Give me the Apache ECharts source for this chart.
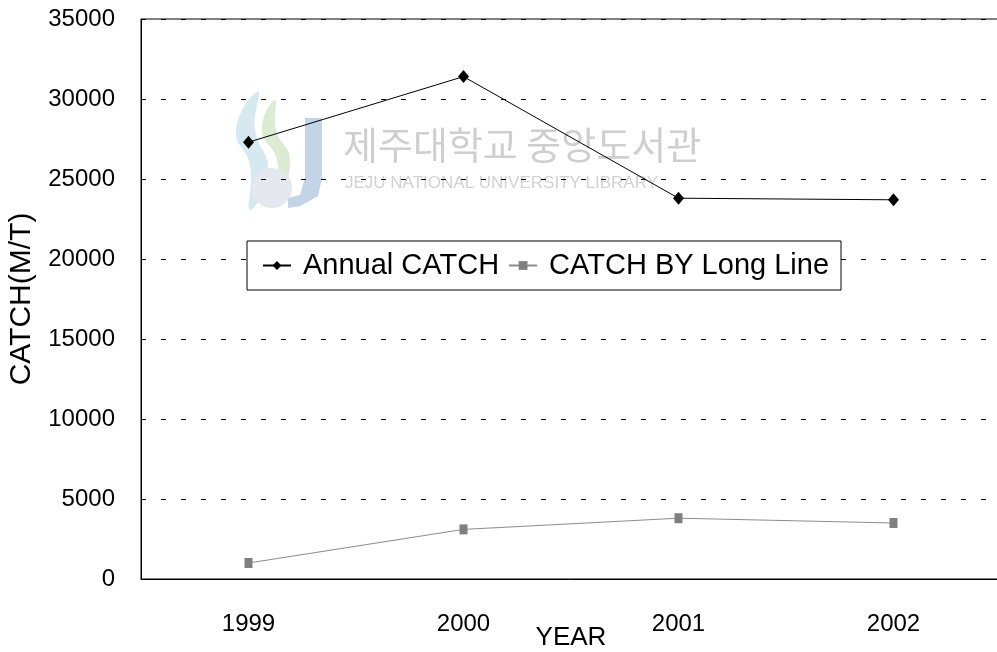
<!DOCTYPE html>
<html>
<head>
<meta charset="utf-8">
<script src="https://cdn.jsdelivr.net/npm/echarts@6/dist/echarts.min.js"></script>
<style>html,body{margin:0;padding:0;background:#fff}#c{width:997px;height:652px}</style>
</head>
<body>
<div id="c"></div>
<script>
const years = ['1999', '2000', '2001', '2002'];
const annualCatch = [27300, 31400, 23800, 23700];
const longLineCatch = [1000, 3100, 3800, 3500];
const yTicks = {min: 0, max: 35000, interval: 5000};
const seriesNames = ['Annual CATCH', 'CATCH BY Long Line'];

const FONT = "'Liberation Sans', Arial, sans-serif";
const chart = echarts.init(document.getElementById('c'), null, {renderer: 'canvas'});
chart.setOption({
  backgroundColor: '#fff',
  animation: false,
  textStyle: {fontFamily: FONT},
  grid: {left: 141, top: 19, width: 860, height: 560, containLabel: false, outerBoundsMode: 'none',
         show: true, borderColor: '#000', borderWidth: 1},
  graphic: {elements: [
    {type: 'polygon', z: -1, shape: {smooth: 0.5, points: [[258, 92], [236, 130], [250, 165], [250, 210], [268, 170], [255, 130]]}, style: {fill: '#d6e8f0'}},
    {type: 'polygon', z: -1, shape: {smooth: 0.5, points: [[275, 100], [262, 130], [277, 160], [278, 200], [290, 160], [276, 130]]}, style: {fill: '#dcebd2'}},
    {type: 'circle', z: -1, shape: {cx: 272, cy: 188, r: 20}, style: {fill: '#e6e8f0'}},
    {type: 'rect', z: -1, shape: {x: 305, y: 118, width: 17, height: 62}, style: {fill: '#c3d3e8'}},
    {type: 'polygon', z: -1, shape: {points: [[322, 178], [318, 196], [300, 206], [288, 208], [288, 198], [300, 195], [305, 178]]}, style: {fill: '#c3d3e8'}},
    {type: 'text', z: -1, style: {x: 343, y: 126, text: '제주대학교 중앙도서관', font: "38px 'Noto Sans CJK KR'", fill: '#cfcfcf'}},
    {type: 'text', z: -1, style: {x: 345, y: 175, text: 'JEJU NATIONAL UNIVERSITY LIBRARY', font: "17px 'Liberation Sans'", fill: '#d2d2d2'}}
  ]},
  legend: {
    left: 247, top: 241,
    padding: [10, 12, 10, 15],
    backgroundColor: '#fff',
    borderColor: '#000', borderWidth: 1,
    itemWidth: 28, itemHeight: 11, itemGap: 9,
    textStyle: {fontFamily: FONT, fontSize: 29, color: '#000', padding: [0, 0, 0, 7]},
    data: seriesNames
  },
  xAxis: {
    type: 'category',
    data: years,
    boundaryGap: true,
    name: 'YEAR',
    nameLocation: 'middle',
    nameGap: 46,
    nameMoveOverlap: false,
    nameTextStyle: {fontFamily: FONT, fontSize: 26, color: '#000'},
    axisLine: {lineStyle: {color: '#000', width: 1}},
    axisTick: {inside: true, length: 10, lineStyle: {color: '#666'}},
    axisLabel: {fontFamily: FONT, fontSize: 24, color: '#000', margin: 33}
  },
  yAxis: {
    type: 'value',
    min: yTicks.min, max: yTicks.max, interval: yTicks.interval,
    name: 'CATCH(M/T)',
    nameLocation: 'middle',
    nameGap: 104,
    nameMoveOverlap: false,
    nameTextStyle: {fontFamily: FONT, fontSize: 30, color: '#000'},
    axisLine: {show: true, lineStyle: {color: '#000', width: 1}},
    axisTick: {show: true, inside: true, length: 5, lineStyle: {color: '#000'}},
    axisLabel: {fontFamily: FONT, fontSize: 24, color: '#000', margin: 26, formatter: v => String(v)},
    splitLine: {show: true, lineStyle: {color: '#000', width: 1, type: [5, 15]}}
  },
  series: [
    {
      name: seriesNames[0], type: 'line', data: annualCatch,
      symbol: 'diamond', symbolSize: [11, 13],
      itemStyle: {color: '#000'},
      lineStyle: {color: '#000', width: 1},
      z: 3
    },
    {
      name: seriesNames[1], type: 'line', data: longLineCatch,
      symbol: 'rect', symbolSize: [8, 10],
      itemStyle: {color: '#808080'},
      lineStyle: {color: '#8c8c8c', width: 1},
      z: 3
    }
  ]
});
</script>
</body>
</html>
